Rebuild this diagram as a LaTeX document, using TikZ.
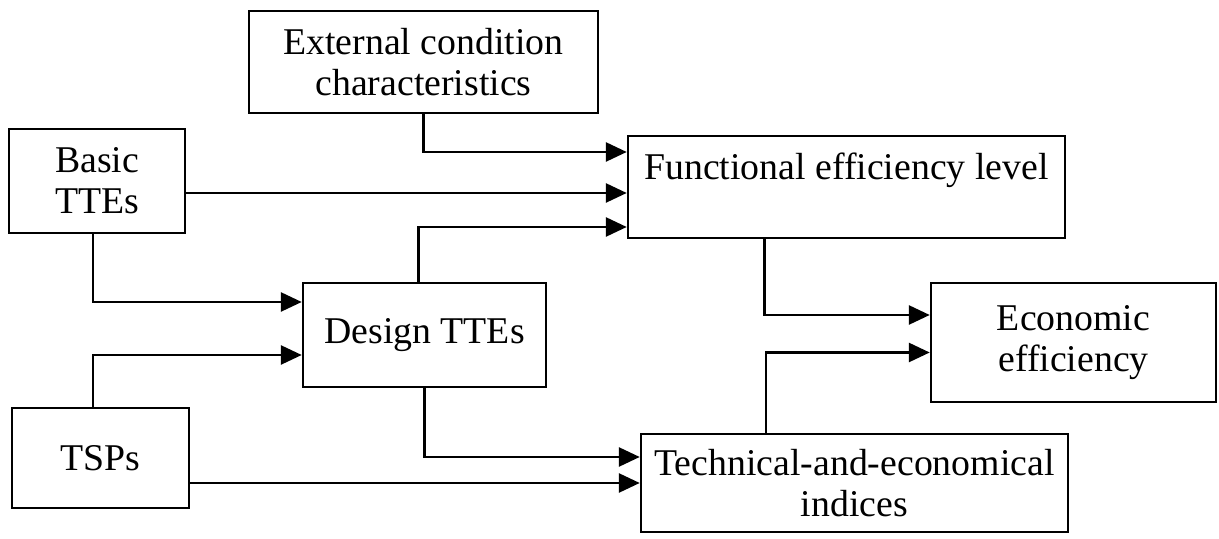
\documentclass[tikz,border=0pt]{standalone}
\usepackage{fontspec}
\setmainfont{Liberation Serif}
\usetikzlibrary{arrows.meta}
\tikzset{%
  block/.style={draw, rectangle, line width=1.4pt, align=center, inner sep=0pt, font=\fontsize{21.5}{23.5}\selectfont},%
  feed/.style={line width=1.6pt, -{Triangle[length=0.42cm, width=0.38cm]}},%
}

\begin{document}
\begin{tikzpicture}%
\useasboundingbox (0,0) rectangle (24.38,-10.78);%
% blocks
\node[block, minimum width=6.98cm, minimum height=2.04cm] (ext) at (8.47,-1.24) {External condition\\characteristics};%
\node[block, minimum width=3.52cm, minimum height=2.08cm] (basic) at (1.94,-3.62) {Basic\\TTEs};%
\node[block, minimum width=8.74cm, minimum height=2.04cm] (func) at (16.93,-3.74) {Functional efficiency level\\ \mbox{}};%
\node[block, minimum width=4.86cm, minimum height=2.08cm] (design) at (8.49,-6.70) {Design TTEs};%
\node[block, minimum width=5.70cm, minimum height=2.38cm] (econ) at (21.47,-6.85) {Economic\\efficiency};%
\node[block, minimum width=3.54cm, minimum height=2.00cm] (tsp) at (2.01,-9.16) {TSPs};%
\node[block, minimum width=8.54cm, minimum height=1.96cm] (tech) at (17.09,-9.66) {Technical-and-economical\\indices};%
% entry points on the left sides
\coordinate (f1) at ([yshift=0.70cm]func.west);%
\coordinate (f2) at ([yshift=-0.12cm]func.west);%
\coordinate (f3) at ([yshift=-0.80cm]func.west);%
\coordinate (d1) at ([yshift=0.66cm]design.west);%
\coordinate (d2) at ([yshift=-0.40cm]design.west);%
\coordinate (t1) at ([yshift=0.52cm]tech.west);%
\coordinate (e1) at ([yshift=0.55cm]econ.west);%
\coordinate (e2) at ([yshift=-0.20cm]econ.west);%
% connectors
\draw[feed] (ext.south) |- (f1);%
\draw[feed] (basic.east |- f2) -- (f2);%
\draw[feed] ([xshift=-0.12cm]design.north) |- (f3);%
\draw[feed] ([xshift=-0.08cm]basic.south) |- (d1);%
\draw[feed] ([xshift=-0.15cm]tsp.north) |- (d2);%
\draw[feed] (design.south) |- (t1);%
\draw[feed] (tsp.east |- tech.west) -- (tech.west);%
\draw[feed] ([xshift=-1.64cm]func.south) |- (e1);%
\draw[feed] ([xshift=-1.77cm]tech.north) |- (e2);%
\end{tikzpicture}
\end{document}
